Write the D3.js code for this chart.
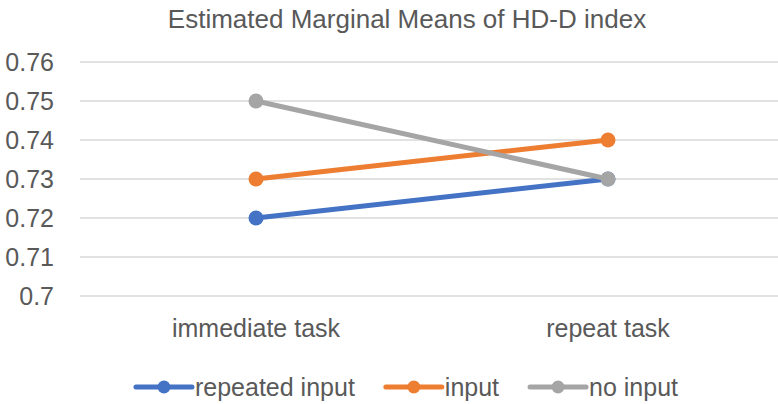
<!DOCTYPE html>
<html>
<head>
<meta charset="utf-8">
<script src="https://cdn.jsdelivr.net/npm/d3@7"></script>
<style>
  body { margin: 0; background: #fff; }
  svg { display: block; }
  text { font-family: "Liberation Sans", Arial, sans-serif; fill: #595959; }
</style>
</head>
<body>
<svg id="chart" width="778" height="404"></svg>
<script>
const categories = ['immediate task', 'repeat task']
const seriesNames = ['repeated input', 'input', 'no input']
const seriesColors = ['#4472C4', '#ED7D31', '#A5A5A5']
const repeatedInput = [0.72, 0.73]
const input = [0.73, 0.74]
const noInput = [0.75, 0.73]
const yTicks = [0.7, 0.71, 0.72, 0.73, 0.74, 0.75, 0.76]
const titleText = 'Estimated Marginal Means of HD-D index'

const series = [repeatedInput, input, noInput].map((values, i) => ({
  name: seriesNames[i],
  color: seriesColors[i],
  values: values.map((v, j) => ({ cat: categories[j], v }))
}))

const svg = d3.select('#chart')
const centerX = 407

const x = d3.scaleBand().domain(categories).range([80, 784])
const y = d3.scaleLinear().domain([0.7, 0.76]).range([296, 62])

// Title
svg.append('text')
  .attr('x', centerX)
  .attr('y', 28)
  .attr('text-anchor', 'middle')
  .style('font-size', '26px')
  .text(titleText)

// Gridlines
svg.append('g')
  .selectAll('line')
  .data(yTicks)
  .join('line')
  .attr('x1', 80)
  .attr('x2', 784)
  .attr('y1', d => y(d))
  .attr('y2', d => y(d))
  .attr('stroke', '#d9d9d9')
  .attr('stroke-width', 1.5)

// Y axis labels
const yAxis = d3.axisLeft(y).tickValues(yTicks).tickSize(0).tickPadding(0)
  .tickFormat(d => d3.format('')(+d.toFixed(2)))
const gy = svg.append('g').attr('transform', 'translate(54,0)').call(yAxis)
gy.select('.domain').remove()
gy.selectAll('text')
  .style('font-size', '25px')
  .style('font-family', '"Liberation Sans", Arial, sans-serif')
  .attr('fill', '#595959')
  .attr('dy', '0.35em')

// X axis labels
const xAxis = d3.axisBottom(x).tickSize(0).tickPadding(0)
const gx = svg.append('g').attr('transform', 'translate(0,319)').call(xAxis)
gx.select('.domain').remove()
gx.selectAll('text')
  .style('font-size', '25px')
  .style('font-family', '"Liberation Sans", Arial, sans-serif')
  .attr('fill', '#595959')
  .attr('dy', '0.71em')

// Lines and markers
const line = d3.line()
  .x(d => x(d.cat) + x.bandwidth() / 2)
  .y(d => y(d.v))

const sg = svg.append('g')
  .selectAll('g')
  .data(series)
  .join('g')

sg.append('path')
  .attr('d', d => line(d.values))
  .attr('fill', 'none')
  .attr('stroke', d => d.color)
  .attr('stroke-width', 5)
  .attr('stroke-linecap', 'round')

sg.selectAll('circle')
  .data(d => d.values.map(p => ({ ...p, color: d.color })))
  .join('circle')
  .attr('cx', d => x(d.cat) + x.bandwidth() / 2)
  .attr('cy', d => y(d.v))
  .attr('r', 7.5)
  .attr('fill', d => d.color)

// Legend
const legend = svg.append('g')
const legendY = 387
const lineW = 56
const gap = 31
let cursor = 0
const items = series.map(s => {
  const g = legend.append('g')
  g.append('line')
    .attr('x1', 0).attr('x2', lineW)
    .attr('y1', legendY).attr('y2', legendY)
    .attr('stroke', s.color).attr('stroke-width', 5)
    .attr('stroke-linecap', 'round')
  g.append('circle')
    .attr('cx', lineW / 2).attr('cy', legendY).attr('r', 6.5)
    .attr('fill', s.color)
  const t = g.append('text')
    .attr('x', lineW + 3).attr('y', legendY + 9)
    .style('font-size', '25px')
    .text(s.name)
  const w = lineW + 3 + t.node().getComputedTextLength()
  g.attr('transform', `translate(${cursor},0)`)
  cursor += w + gap
  return w
})
const total = cursor - gap
legend.attr('transform', `translate(${centerX - total / 2},0)`)
</script>
</body>
</html>
